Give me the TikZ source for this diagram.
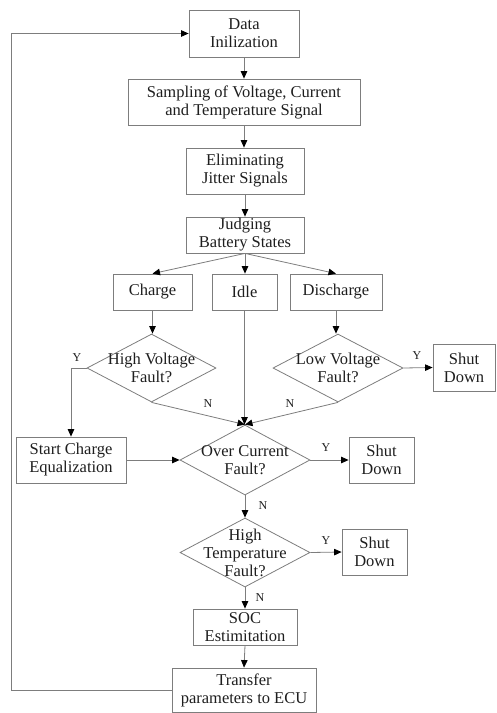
\documentclass[tikz,border=0pt]{standalone}
\usepackage{fontspec}
\setmainfont{Liberation Serif}
\usetikzlibrary{shapes.geometric,arrows.meta}
\definecolor{ln}{RGB}{125,125,125}
\definecolor{tx}{RGB}{30,30,30}
\tikzset{
  box/.style={draw=ln,line width=0.8pt,rectangle,inner sep=0pt,align=center,text=tx,font=\fontsize{16.5}{18}\selectfont},
  dia/.style={draw=ln,line width=0.8pt,diamond,inner sep=0pt},
  dtext/.style={align=center,text=tx,font=\fontsize{16.5}{18}\selectfont,inner sep=0pt},
  yn/.style={text=tx,font=\fontsize{12}{13}\selectfont,inner sep=0pt},
  arr/.style={draw=ln,line width=0.8pt,-{Triangle[length=7.5pt,width=6.5pt,color=black]}},
  ln0/.style={draw=ln,line width=0.8pt}
}
\begin{document}
\begin{tikzpicture}[x=1pt,y=-1pt]
\useasboundingbox (0,0) rectangle (496,713);
% boxes
\node[box,minimum width=110,minimum height=47] (data) at (244,33.5) {Data\\Inilization};
\node[box,minimum width=232,minimum height=46] (samp) at (244,102) {Sampling of Voltage, Current\\and Temperature Signal};
\node[box,minimum width=118,minimum height=46] (elim) at (245,171) {Eliminating\\Jitter Signals};
\node[box,minimum width=118,minimum height=36] (judge) at (245,235) {Judging\\Battery States};
\node[box,minimum width=79,minimum height=36] (charge) at (152.5,292) {Charge};
\node[box,minimum width=65,minimum height=36] (idle) at (244.5,292) {Idle};
\node[box,minimum width=92,minimum height=36] (dis) at (336,292) {Discharge};
\node[box,minimum width=62,minimum height=47] (sd1) at (464,367.5) {Shut\\Down};
\node[box,minimum width=110,minimum height=46] (sc) at (71,460) {Start Charge\\Equalization};
\node[box,minimum width=65,minimum height=46] (sd2) at (381.5,460) {Shut\\Down};
\node[box,minimum width=65,minimum height=46] (sd3) at (374.5,552) {Shut\\Down};
\node[box,minimum width=104,minimum height=36] (soc) at (245,627) {SOC\\Estimitation};
\node[box,minimum width=144,minimum height=44] (tr) at (244,690) {Transfer\\parameters to ECU};
% diamonds
\node[dia,minimum width=129,minimum height=68] (hv) at (151.5,368) {};
\node[dtext] at (hv) {High Voltage\\Fault?};
\node[dia,minimum width=130,minimum height=68] (lv) at (338,368) {};
\node[dtext] at (lv) {Low Voltage\\Fault?};
\node[dia,minimum width=130,minimum height=70] (oc) at (245,460) {};
\node[dtext] at (oc) {Over Current\\Fault?};
\node[dia,minimum width=130,minimum height=69] (ht) at (245,552.5) {};
\node[dtext] at (ht) {High\\Temperature\\Fault?};
% connectors
\draw[arr] (data.south) -- (samp.north);
\draw[arr] (samp.south) -- (elim.north -| samp.south);
\draw[arr] (elim.south) -- (judge.north);
\draw[arr] (judge.south) -- (charge.north);
\draw[arr] (judge.south) -- (judge.south |- idle.north);
\draw[arr] (judge.south) -- (dis.north);
\draw[arr] (charge.south) -- (charge.south |- hv.north);
\draw[arr] (dis.south) -- (dis.south |- lv.north);
\draw[arr] (hv.west) -| (sc.north);
\draw[arr] (hv.south) -- (oc.north);
\draw[arr] (lv.south) -- (oc.north);
\draw[arr] (idle.south) -- (idle.south |- oc.north);
\draw[arr] (lv.east) -- (sd1.west);
\draw[arr] (sc.east) -- (oc.west);
\draw[arr] (oc.east) -- (sd2.west);
\draw[arr] (oc.south) -- (ht.north);
\draw[arr] (ht.east) -- (sd3.west);
\draw[arr] (ht.south) -- (soc.north);
\draw[arr] (soc.south) -- (tr.north);
\coordinate (lb) at (11,690);
\coordinate (lt) at (11,33.5);
\draw[arr] (tr.west) -- (lb) -- (lt) -- (data.west);
% labels
\node[yn] at (77,358) {Y};
\node[yn] at (417,356) {Y};
\node[yn] at (208,404) {N};
\node[yn] at (290,404) {N};
\node[yn] at (326,448) {Y};
\node[yn] at (263,506) {N};
\node[yn] at (326,541) {Y};
\node[yn] at (260,598) {N};
\end{tikzpicture}
\end{document}
